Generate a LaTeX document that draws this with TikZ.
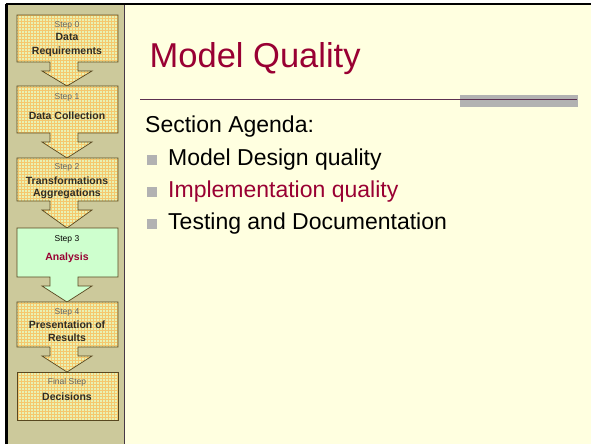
\documentclass[tikz,border=0pt]{standalone}
\usepackage{fontspec}
\setmainfont{Liberation Sans}
\definecolor{khaki}{RGB}{204,201,155}
\definecolor{paneyellow}{RGB}{255,255,224}
\definecolor{boxbase}{RGB}{232,242,180}
\definecolor{gridorange}{RGB}{245,200,110}
\definecolor{greenfill}{RGB}{206,255,206}
\definecolor{boxedge}{RGB}{88,72,32}
\definecolor{steptext}{RGB}{100,100,100}
\definecolor{titletext}{RGB}{48,44,36}
\definecolor{titlered}{RGB}{153,0,51}
\definecolor{rulecol}{RGB}{92,48,80}
\definecolor{bargray}{RGB}{178,178,178}
\definecolor{sepcol}{RGB}{70,56,70}
\tikzset{
  boxline/.style={draw=boxedge, line width=0.7pt, line join=miter},
  hatchbox/.style={boxline, fill=boxbase,
    path picture={\draw[gridorange, line width=0.7pt]
      (path picture bounding box.south west) grid[step=3pt] (path picture bounding box.north east);}},
  greenbox/.style={boxline, fill=greenfill},
  steplbl/.style={font=\fontsize{8.5}{10}\selectfont, text=steptext, inner sep=0pt},
  titlelbl/.style={font=\fontsize{10.5}{13}\selectfont\bfseries, text=titletext, align=center, inner sep=0pt},
  bodytext/.style={font=\fontsize{23}{27}\selectfont, anchor=base west, inner sep=0pt},
  bulletsq/.style={fill=bargray, minimum width=10pt, minimum height=10pt, inner sep=0pt, anchor=south west},
}
\newcommand\arrowbox[4]{%
  \path[#4] (17,#1) -- (118,#1) -- (118,#2) -- (78,#2) -- (78,#2+9) -- (92,#2+9)
    -- (67,#3) -- (42,#2+9) -- (50,#2+9) -- (50,#2) -- (17,#2) -- cycle;}
\begin{document}
\begin{tikzpicture}[x=1pt,y=-1pt]
\useasboundingbox (0,0) rectangle (591,444);
\fill[white] (0,0) rectangle (591,444);
% panels
\fill[paneyellow] (124,4) rectangle (591,444);
\fill[khaki] (6,4) rectangle (124.5,444);
\draw[black, line width=2.5pt] (6.5,444) -- (6.5,4);
\draw[black, line width=2pt] (5.5,4) -- (591,4);
\draw[sepcol, line width=1.5pt] (124.5,5) -- (124.5,444);
% step boxes with arrows
\arrowbox{15}{62}{86}{hatchbox}
\arrowbox{86}{133}{158}{hatchbox}
\arrowbox{158}{201}{228}{hatchbox}
\arrowbox{228}{277}{302}{greenbox}
\arrowbox{302}{347}{372}{hatchbox}
\path[hatchbox] (17,372) rectangle (118,420);
% box labels
\node[steplbl] (s0) at (67,25) {Step 0};
\node[titlelbl, font=\fontsize{10.5}{14}\selectfont\bfseries] (t0) at (67,45) {Data\\Requirements};
\node[steplbl] (s1) at (67,97) {Step 1};
\node[titlelbl] (t1) at (67,116) {Data Collection};
\node[steplbl] (s2) at (67,167) {Step 2};
\node[titlelbl, font=\fontsize{10.5}{12}\selectfont\bfseries] (t2) at (67,187.5) {Transformations\\Aggregations};
\node[steplbl, text=black] (s3) at (67,239) {Step 3};
\node[titlelbl, text=titlered] (t3) at (67,258) {Analysis};
\node[steplbl] (s4) at (67,312) {Step 4};
\node[titlelbl, font=\fontsize{10.5}{12.5}\selectfont\bfseries] (t4) at (67,331) {Presentation of\\Results};
\node[steplbl] (s5) at (67,382) {Final Step};
\node[titlelbl] (t5) at (67,397) {Decisions};
% title
\node[font=\fontsize{34.5}{39}\selectfont, text=titlered, anchor=base west, inner sep=0pt] (title) at (149.5,67) {Model Quality};
\fill[bargray] (460,95) rectangle (578,106.7);
\coordinate (ruleL) at (140,99.5);
\coordinate (ruleR) at (577,99.5);
\draw[rulecol, line width=1.3pt] (ruleL) -- (ruleR);
% body
\node[bodytext] (agenda) at (145,132) {Section Agenda:};
\node[bulletsq] (b1) at (147,165.5) {};
\node[bodytext] (i1) at (168,165.5) {Model Design quality};
\node[bulletsq] (b2) at (147,197) {};
\node[bodytext, text=titlered] (i2) at (168,197.5) {Implementation quality};
\node[bulletsq] (b3) at (147,229) {};
\node[bodytext] (i3) at (168,229.5) {Testing and Documentation};
\end{tikzpicture}
\end{document}
